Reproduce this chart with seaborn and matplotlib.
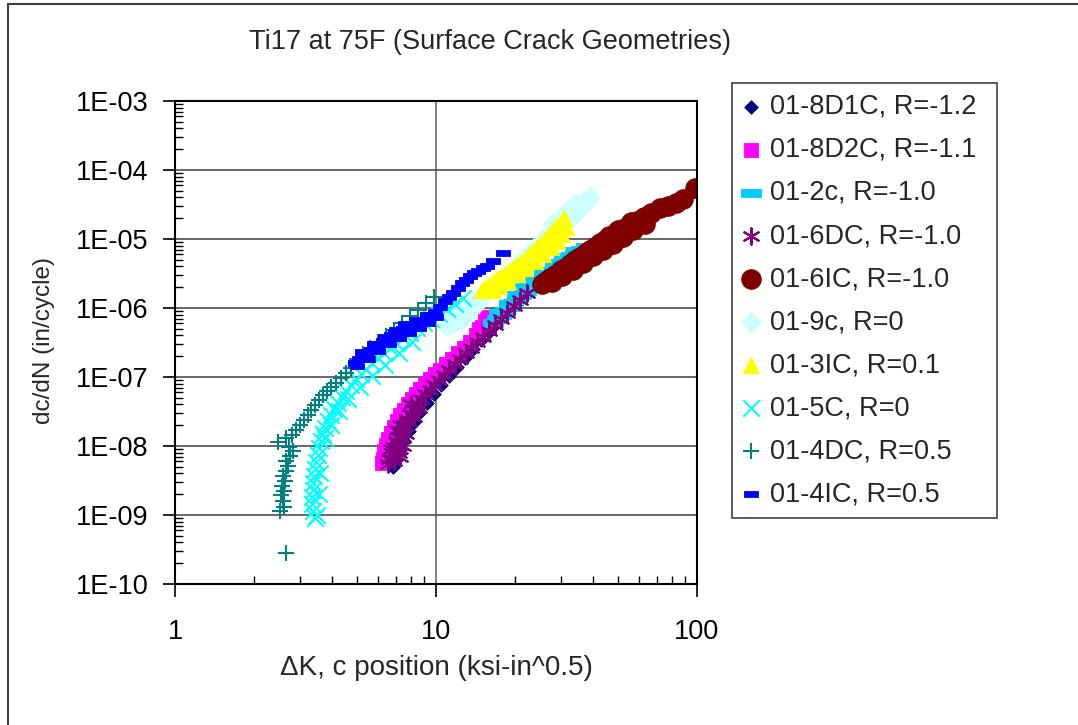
import numpy as np
import pandas as pd
import matplotlib
matplotlib.use("Agg")
import matplotlib.pyplot as plt
from matplotlib.ticker import LogLocator, NullFormatter, FixedLocator, FixedFormatter
from matplotlib.lines import Line2D
import seaborn as sns

# ---------------- data ----------------
title = "Ti17 at 75F (Surface Crack Geometries)"
x_label = "\u0394K, c position (ksi-in^0.5)"
y_label = "dc/dN (in/cycle)"

x_ticks = [1, 10, 100]
x_tick_labels = ["1", "10", "100"]
y_ticks = [1e-10, 1e-9, 1e-8, 1e-7, 1e-6, 1e-5, 1e-4, 1e-3]
y_tick_labels = ["1E-10", "1E-09", "1E-08", "1E-07", "1E-06", "1E-05", "1E-04", "1E-03"]

labels = ["01-8D1C, R=-1.2", "01-8D2C, R=-1.1", "01-2c, R=-1.0", "01-6DC, R=-1.0",
          "01-6IC, R=-1.0", "01-9c, R=0", "01-3IC, R=0.1", "01-5C, R=0",
          "01-4DC, R=0.5", "01-4IC, R=0.5"]

s8d1c_x = [6.84, 7.09, 7.28, 7.54, 7.88, 8.24, 8.69, 9.24, 9.82, 10.45, 11.21, 12.03,
           12.91, 13.86, 14.87, 15.96, 17.13, 18.38, 19.55]
s8d1c_y = [4.96e-9, 6.48e-9, 8.75e-9, 1.18e-8, 1.65e-8, 2.23e-8, 3.11e-8, 4.20e-8,
           5.68e-8, 7.66e-8, 1.03e-7, 1.40e-7, 1.88e-7, 2.55e-7, 3.44e-7, 4.49e-7,
           6.07e-7, 7.92e-7, 1.07e-6]

s8d2c_x = [6.27, 6.32, 6.43, 6.55, 6.72, 6.90, 7.09, 7.28, 7.54, 7.81, 8.09, 8.38, 8.69,
           9.08, 9.48, 9.91, 10.36, 10.92, 11.51, 12.14, 12.80, 13.50, 14.23, 15.01, 15.68,
           6.20, 6.50, 14.60, 15.40]
s8d2c_y = [6.48e-9, 8.47e-9, 1.03e-8, 1.26e-8, 1.54e-8, 1.88e-8, 2.30e-8, 2.81e-8,
           3.33e-8, 4.07e-8, 4.80e-8, 5.68e-8, 6.70e-8, 7.92e-8, 9.35e-8, 1.10e-7,
           1.26e-7, 1.54e-7, 1.82e-7, 2.23e-7, 2.63e-7, 3.21e-7, 4.06e-7, 5.31e-7,
           7.41e-7, 5.6e-9, 9.5e-9, 5.0e-7, 6.5e-7]

s2c_x = [16.53, 17.13, 17.75, 18.38, 19.05, 19.72, 20.43, 21.17, 22.13, 23.12, 24.16,
         25.26, 26.40, 27.58, 28.83, 30.13, 31.49, 32.90, 34.39, 35.94, 37.56,
         17.5, 19.0, 20.5, 22.0, 24.0, 26.0, 28.5, 31.0, 34.0]
s2c_y = [6.07e-7, 6.94e-7, 7.92e-7, 9.05e-7, 1.03e-6, 1.18e-6, 1.35e-6, 1.54e-6,
         1.76e-6, 2.01e-6, 2.30e-6, 2.63e-6, 3.01e-6, 3.44e-6, 3.93e-6, 4.49e-6,
         5.13e-6, 5.68e-6, 6.27e-6, 6.93e-6, 7.66e-6,
         8.5e-7, 1.15e-6, 1.55e-6, 2.0e-6, 2.6e-6, 3.3e-6, 4.3e-6, 5.4e-6, 6.6e-6]

s6dc_x = [6.55, 6.66, 6.78, 6.90, 7.03, 7.15, 7.34, 7.54, 7.74, 7.95, 8.17, 8.46, 8.76,
          9.08, 9.48, 9.82, 10.27, 10.73, 11.21, 11.82, 12.36, 13.03, 13.62, 14.36,
          15.14, 15.96, 16.83, 17.75, 18.71, 19.90, 20.98, 22.32,
          6.90, 7.20, 7.00, 7.40, 7.30, 7.90, 8.30, 8.00,
          6.60, 7.30, 7.50, 7.70, 6.70, 7.10, 8.20, 8.60]
s6dc_y = [5.48e-9, 6.70e-9, 7.92e-9, 9.68e-9, 1.14e-8, 1.35e-8, 1.65e-8, 2.01e-8,
          2.46e-8, 2.91e-8, 3.44e-8, 4.07e-8, 4.80e-8, 5.68e-8, 6.49e-8, 7.66e-8,
          9.05e-8, 1.07e-7, 1.26e-7, 1.54e-7, 1.82e-7, 2.23e-7, 2.63e-7, 3.21e-7,
          3.80e-7, 4.64e-7, 5.68e-7, 6.94e-7, 8.47e-7, 1.07e-6, 1.31e-6, 1.65e-6,
          6.0e-9, 8.0e-9, 1.2e-8, 1.3e-8, 2.0e-8, 2.2e-8, 3.3e-8, 4.0e-8,
          6.5e-9, 7.0e-9, 1.0e-8, 1.5e-8, 9.0e-9, 1.7e-8, 2.6e-8, 3.6e-8]

s6ic_x = [25.47, 26.40, 27.35, 28.58, 29.87, 31.21, 32.61, 34.09, 35.62, 37.23, 38.90,
          40.66, 42.49, 44.40, 46.42, 48.51, 50.70, 52.98, 55.38, 58.90, 62.66, 66.65,
          72.14, 77.42, 83.08, 88.39, 98.24,
          27.9, 30.5, 33.5, 36.5, 40.0, 43.5, 47.5, 52.0, 57.0, 63.0,
          30.0, 34.0, 38.0, 42.0, 46.0, 50.0, 56.0]
s6ic_y = [2.23e-6, 2.46e-6, 2.72e-6, 3.01e-6, 3.33e-6, 3.80e-6, 4.34e-6, 4.80e-6,
          5.48e-6, 6.07e-6, 6.93e-6, 7.66e-6, 8.75e-6, 9.68e-6, 1.07e-5, 1.18e-5,
          1.31e-5, 1.44e-5, 1.60e-5, 1.82e-5, 2.08e-5, 2.38e-5, 2.81e-5, 3.01e-5,
          3.33e-5, 3.80e-5, 5.48e-5,
          2.4e-6, 2.9e-6, 3.6e-6, 4.5e-6, 5.6e-6, 6.9e-6, 8.6e-6, 1.07e-5, 1.33e-5, 1.65e-5,
          3.6e-6, 4.9e-6, 6.5e-6, 8.6e-6, 1.1e-5, 1.37e-5, 1.75e-5]

s9c_x = [11.62, 12.14, 12.69, 13.26, 13.86, 14.49, 15.14, 15.82, 16.68, 17.59, 18.54,
         19.55, 20.62, 21.74, 22.92, 24.16, 25.47, 26.86, 28.32, 29.87, 31.49, 33.20,
         35.00, 36.90, 38.90,
         11.0, 11.3, 12.0, 12.5, 13.0, 13.8, 14.5,
         30.5, 32.5, 34.5, 37.0, 28.0, 30.0, 32.0, 34.0]
s9c_y = [6.07e-7, 7.16e-7, 8.47e-7, 1.00e-6, 1.18e-6, 1.40e-6, 1.60e-6, 1.82e-6,
         2.15e-6, 2.55e-6, 3.01e-6, 3.56e-6, 4.34e-6, 5.31e-6, 6.49e-6, 7.92e-6,
         9.68e-6, 1.18e-5, 1.40e-5, 1.71e-5, 2.08e-5, 2.55e-5, 3.01e-5, 3.56e-5, 4.06e-5,
         5.5e-7, 7.0e-7, 8.5e-7, 6.5e-7, 8.0e-7, 1.0e-6, 1.2e-6,
         1.5e-5, 1.9e-5, 2.4e-5, 3.1e-5, 1.7e-5, 2.1e-5, 2.6e-5, 3.2e-5]

s3ic_x = [15.41, 15.96, 16.53, 17.13, 17.75, 18.38, 19.05, 19.72, 20.43, 21.17, 21.93,
          22.72, 23.53, 24.38, 25.26, 26.16, 27.10, 28.07, 29.08, 30.13, 30.93,
          16.2, 17.5, 19.0, 20.5, 22.0, 23.5, 25.0, 26.5, 28.0, 29.5,
          17.5, 18.8, 20.5, 22.0, 24.0, 25.8, 27.5, 29.0, 30.5, 31.5, 15.0, 16.5]
s3ic_y = [1.95e-6, 2.15e-6, 2.38e-6, 2.63e-6, 2.81e-6, 3.11e-6, 3.44e-6, 3.80e-6,
          4.20e-6, 4.64e-6, 5.13e-6, 5.86e-6, 6.70e-6, 7.66e-6, 8.75e-6, 1.00e-5,
          1.14e-5, 1.35e-5, 1.54e-5, 1.76e-5, 2.01e-5,
          2.0e-6, 2.5e-6, 3.1e-6, 3.7e-6, 4.5e-6, 5.6e-6, 7.0e-6, 8.9e-6, 1.12e-5, 1.4e-5,
          2.1e-6, 2.5e-6, 3.1e-6, 3.8e-6, 4.8e-6, 6.0e-6, 7.6e-6, 9.5e-6, 1.2e-5, 1.5e-5,
          1.8e-6, 1.85e-6]

s5c_x = [3.44, 3.38, 3.35, 3.35, 3.38, 3.38, 3.41, 3.44, 3.47, 3.53, 3.56, 3.63, 3.69,
         3.76, 3.86, 3.96, 4.07, 4.21, 4.36, 4.52, 4.72, 4.94, 5.16, 5.39, 5.69, 6.00,
         6.32, 6.66, 7.03, 7.47, 7.95, 8.46, 8.99, 9.57, 10.27, 11.02, 11.82, 12.69,
         3.50, 3.55, 3.60, 3.75, 3.95, 4.25, 4.60, 5.10, 5.70, 6.40, 7.20, 8.10]
s5c_y = [9.05e-10, 1.14e-9, 1.44e-9, 1.82e-9, 2.30e-9, 2.91e-9, 3.67e-9, 4.64e-9,
         5.86e-9, 7.41e-9, 9.35e-9, 1.18e-8, 1.49e-8, 1.82e-8, 2.30e-8, 2.81e-8,
         3.44e-8, 4.20e-8, 5.13e-8, 6.27e-8, 7.66e-8, 9.35e-8, 1.10e-7, 1.31e-7,
         1.60e-7, 1.88e-7, 2.23e-7, 2.63e-7, 3.11e-7, 3.67e-7, 4.34e-7, 5.13e-7,
         6.07e-7, 6.94e-7, 8.18e-7, 9.68e-7, 1.14e-6, 1.40e-6,
         1.0e-9, 2.0e-9, 4.0e-9, 1.3e-8, 2.0e-8, 3.2e-8, 4.8e-8, 7.2e-8, 1.05e-7,
         1.5e-7, 2.2e-7, 3.2e-7]

s4dc_x = [2.66, 2.53, 2.62, 2.59, 2.55, 2.62, 2.57, 2.64, 2.59, 2.66, 2.71, 2.66, 2.76,
          2.83, 2.73, 2.48, 2.66, 2.81, 2.91, 3.01, 3.12, 3.23, 3.32, 3.44, 3.56, 3.69,
          3.82, 3.96, 4.14, 4.33, 4.52, 4.72, 4.98, 5.25, 5.59, 6.00, 6.43, 6.90, 7.41,
          7.95, 8.53, 9.16, 9.82]
s4dc_y = [2.81e-10, 1.14e-9, 1.31e-9, 1.60e-9, 1.95e-9, 2.23e-9, 2.63e-9, 3.11e-9,
          3.67e-9, 4.34e-9, 5.13e-9, 6.07e-9, 7.16e-9, 8.47e-9, 9.68e-9, 1.14e-8,
          1.31e-8, 1.44e-8, 1.71e-8, 2.01e-8, 2.38e-8, 2.81e-8, 3.33e-8, 3.93e-8,
          4.64e-8, 5.48e-8, 6.27e-8, 7.16e-8, 8.18e-8, 9.68e-8, 1.14e-7, 1.35e-7,
          1.85e-7, 2.15e-7, 2.65e-7, 3.2e-7, 3.95e-7, 4.8e-7, 6.0e-7, 7.6e-7, 9.5e-7,
          1.2e-6, 1.45e-6]

s4ic_x = [4.89, 5.07, 5.25, 5.44, 5.64, 5.84, 6.05, 6.27, 6.49, 6.72, 6.97, 7.22, 7.47,
          7.74, 8.02, 8.31, 8.61, 8.92, 9.24, 9.57, 9.91, 10.36, 10.83, 11.21, 11.62,
          12.14, 12.58, 13.03, 13.50, 13.98, 14.49, 15.14, 15.68, 16.53, 18.06,
          5.0, 5.5, 6.0, 6.6, 7.2, 7.9, 8.6, 9.3, 10.0,
          5.2, 5.8, 6.4, 7.0, 7.6, 8.4, 9.2]
s4ic_y = [1.60e-7, 1.82e-7, 2.01e-7, 2.23e-7, 2.46e-7, 2.72e-7, 3.01e-7, 3.33e-7,
          3.67e-7, 4.06e-7, 4.34e-7, 4.64e-7, 4.96e-7, 5.31e-7, 5.48e-7, 5.86e-7,
          6.27e-7, 6.70e-7, 7.16e-7, 7.92e-7, 8.75e-7, 1.03e-6, 1.26e-6, 1.44e-6,
          1.65e-6, 1.95e-6, 2.30e-6, 2.55e-6, 2.91e-6, 3.21e-6, 3.44e-6, 3.80e-6,
          4.06e-6, 4.80e-6, 6.27e-6,
          1.45e-7, 1.85e-7, 2.4e-7, 3.0e-7, 3.7e-7, 4.4e-7, 5.2e-7, 6.0e-7, 7.4e-7,
          2.3e-7, 3.0e-7, 3.8e-7, 4.8e-7, 5.8e-7, 6.8e-7, 8.0e-7]

# ---------------- style ----------------
sns.set_style("white")
plt.rcParams["font.family"] = ["Liberation Sans", "DejaVu Sans"]

W, H = 1078, 725
fig = plt.figure(figsize=(W / 100, H / 100), dpi=100)
ax_l, ax_r, ax_t, ax_b = 175, 697, 101, 584
ax = fig.add_axes([ax_l / W, 1 - ax_b / H, (ax_r - ax_l) / W, (ax_b - ax_t) / H])

big_dash = [(-1, -0.36), (1, -0.36), (1, 0.36), (-1, 0.36), (-1, -0.36)]
small_dash = [(-1, -0.45), (1, -0.45), (1, 0.45), (-1, 0.45), (-1, -0.45)]

series = [
    (s8d1c_x, s8d1c_y, "#000080", "D", 48, True),
    (s8d2c_x, s8d2c_y, "#FF00FF", "s", 100, True),
    (s2c_x, s2c_y, "#00CCFF", big_dash, 220, True),
    (s6dc_x, s6dc_y, "#800080", (6, 2, 0), 140, False),
    (s6ic_x, s6ic_y, "#800000", "o", 200, True),
    (s9c_x, s9c_y, "#CCFFFF", "D", 105, True),
    (s3ic_x, s3ic_y, "#FFFF00", "^", 140, True),
    (s5c_x, s5c_y, "#00FFFF", "x", 140, False),
    (s4dc_x, s4dc_y, "#008080", "+", 145, False),
    (s4ic_x, s4ic_y, "#0000FF", small_dash, 90, True),
]

for (xs, ys, col, mk, sz, filled), lab in zip(series, labels):
    kw = dict(x=xs, y=ys, ax=ax, color=col, marker=mk, s=sz, label=lab)
    if filled:
        kw.update(edgecolor=col, linewidth=0.6)
    else:
        kw.update(linewidth=1.5)
    sns.scatterplot(**kw)

ax.set_xscale("log")
ax.set_yscale("log")
ax.set_xlim(1, 100)
ax.set_ylim(1e-10, 1e-3)

ax.xaxis.set_major_locator(FixedLocator(x_ticks))
ax.xaxis.set_major_formatter(FixedFormatter(x_tick_labels))
ax.yaxis.set_major_locator(FixedLocator(y_ticks))
ax.yaxis.set_major_formatter(FixedFormatter(y_tick_labels))
for axis in (ax.xaxis, ax.yaxis):
    axis.set_minor_locator(LogLocator(base=10, subs=np.arange(2, 10), numticks=20))
    axis.set_minor_formatter(NullFormatter())

fs = 19.5
ax.tick_params(which="both", bottom=True, left=True, top=False, right=False)
ax.tick_params(which="major", direction="out", length=9, width=1.2, colors="black",
               labelsize=fs, labelcolor="black")
ax.tick_params(axis="y", which="major", pad=10)
ax.tick_params(axis="x", which="major", pad=16)
ax.tick_params(which="minor", direction="in", length=6, width=1.0, colors="black")

ax.set_axisbelow(True)
ax.grid(True, which="major", axis="y", color="#404040", linewidth=1.1)
ax.grid(True, which="major", axis="x", color="#808080", linewidth=1.4)
ax.grid(False, which="minor")
for sp in ax.spines.values():
    sp.set_visible(True)
    sp.set_color("black")
    sp.set_linewidth(1.5)

ax.set_xlabel(x_label, fontsize=20)
ax.xaxis.set_label_coords(0.5, (ax_b - 655) / (ax_b - ax_t))
ax.set_ylabel(y_label, fontsize=17.5)
ax.yaxis.set_label_coords((55 - ax_l) / (ax_r - ax_l), (ax_b - 340) / (ax_b - ax_t))

fig.text(490 / W, 1 - 42 / H, title, fontsize=fs, ha="center", va="center")

# legend
leg_l, leg_r, leg_t, leg_b = 732, 997, 83, 518
leg = ax.legend(loc="upper left",
                bbox_to_anchor=(leg_l / W, 1 - leg_b / H, (leg_r - leg_l) / W, (leg_b - leg_t) / H),
                bbox_transform=fig.transFigure, mode="expand", borderaxespad=0,
                fontsize=fs, frameon=True, fancybox=False, edgecolor="#404040",
                framealpha=1, scatterpoints=1, handlelength=0.6, handletextpad=0.4,
                borderpad=0.4, labelspacing=0.63)
leg.get_frame().set_linewidth(1.2)

# outer chart-area border (top and left edges visible)
fig.add_artist(Line2D([8 / W, 1], [1 - 4 / H, 1 - 4 / H], transform=fig.transFigure,
                      color="#404040", linewidth=1.5))
fig.add_artist(Line2D([8 / W, 8 / W], [0, 1 - 4 / H], transform=fig.transFigure,
                      color="#404040", linewidth=1.5))

fig.savefig("out.png", dpi=100)
